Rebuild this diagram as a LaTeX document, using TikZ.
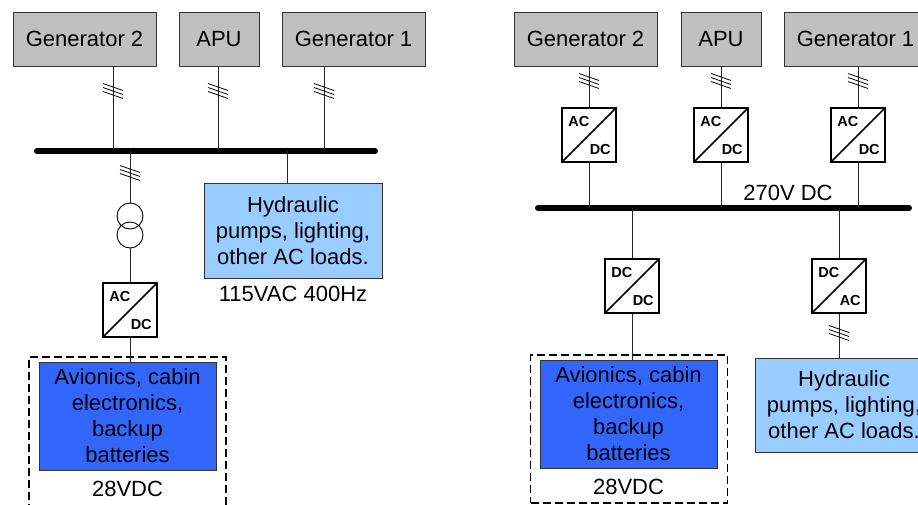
\documentclass[tikz,border=0pt]{standalone}
\usepackage{fontspec}
\setmainfont{Liberation Sans}
\usetikzlibrary{positioning}
\definecolor{gengray}{RGB}{192,192,192}
\definecolor{acblue}{RGB}{153,204,255}
\definecolor{dcblue}{RGB}{51,102,255}

\tikzset{
  gen/.style={draw=black!80, line width=1pt, fill=gengray, minimum height=54pt, inner sep=0pt, font=\fontsize{22}{26}\selectfont},
  conv/.style={draw, line width=1.8pt, fill=white, minimum size=54pt, inner sep=0pt,
    path picture={\draw[line width=1.5pt] (path picture bounding box.south west) -- (path picture bounding box.north east);}},
  convin/.style={label={[anchor=north west, inner sep=0pt, xshift=7pt, yshift=-9pt, font=\bfseries\fontsize{14.5}{15}\selectfont]north west:#1}},
  convout/.style={label={[anchor=south east, inner sep=0pt, xshift=-6pt, yshift=8pt, font=\bfseries\fontsize{14.5}{15}\selectfont]south east:#1}},
  load/.style={draw=black!80, line width=1pt, align=center, inner sep=0pt, font=\fontsize{22}{26}\selectfont},
  volt/.style={inner sep=0pt, font=\fontsize{22}{26}\selectfont},
  bus/.style={line width=6pt, line cap=round},
  wire/.style={line width=0.9pt, black!85},
  group/.style={draw, line width=1.8pt, dash pattern=on 8pt off 4pt, minimum width=197pt, inner sep=0pt},
  phase3/.pic={\foreach \d in {-4,0,4} \draw[line width=0.8pt] (-10,\d-3.5) -- (10,\d+3.5);}
}

\begin{document}
\begin{tikzpicture}[x=1pt, y=-1pt]
  \useasboundingbox (0,0) rectangle (918,504);

  % AC distribution
  \node[gen, minimum width=143pt] (lgen2) at (84.5,39) {Generator 2};
  \node[gen, minimum width=80pt] (lapu) at (219,39) {APU};
  \node[gen, minimum width=143pt] (lgen1) at (353.5,39) {Generator 1};

  \coordinate (lbusw) at (37,151);
  \coordinate (lbuse) at (375,151);
  \coordinate (ltap1) at (113,151);
  \coordinate (ltap2) at (218,151);
  \coordinate (ltap3) at (324,151);
  \coordinate (ltap4) at (287,151);
  \draw[bus] (lbusw) -- (lbuse);

  \foreach \g/\t in {lgen2/ltap1, lapu/ltap2, lgen1/ltap3} {
    \draw[wire] (\g.south -| \t) -- (\t);
    \pic at (\t |- 0,91) {phase3};
  }

  \node[circle, draw, line width=0.9pt, minimum size=26pt, inner sep=0pt] (ltr1) at (130,216) {};
  \node[circle, draw, line width=0.9pt, minimum size=26pt, inner sep=0pt] (ltr2) at (130,235) {};
  \node[conv, convin=AC, convout=DC] (lconv) at (130,310) {};
  \draw[wire] (ltr1.north |- lbusw) -- (ltr1.north);
  \pic at (130,173) {phase3};
  \draw[wire] (ltr2.south) -- (lconv.north);

  \node[load, fill=acblue, minimum width=178pt, minimum height=95pt] (lhyd) at (293,230.5) {Hydraulic\\pumps, lighting,\\other AC loads.};
  \node[volt, below=7pt of lhyd] (lacv) {115VAC 400Hz};
  \draw[wire] (ltap4) -- (ltap4 |- lhyd.north);

  \node[group, minimum height=155pt] (lgrp) at (127.5,434.5) {};
  \node[load, fill=dcblue, minimum width=177pt, minimum height=108pt] (lavio) at (127.5,416) {Avionics, cabin\\electronics,\\backup\\batteries};
  \node[volt, below=10pt of lavio] (ldcv) {28VDC};
  \draw[wire] (lconv.south) -- (lconv.south |- lavio.north);

  % DC distribution
  \node[gen, minimum width=143pt] (rgen2) at (585.5,39) {Generator 2};
  \node[gen, minimum width=80pt] (rapu) at (721,39) {APU};
  \node[gen, minimum width=143pt] (rgen1) at (855.5,39) {Generator 1};
  \node[conv, convin=AC, convout=DC] (rc1) at (589,135) {};
  \node[conv, convin=AC, convout=DC] (rc2) at (721,135) {};
  \node[conv, convin=AC, convout=DC] (rc3) at (858,135) {};

  \coordinate (rbusw) at (538,208);
  \coordinate (rbuse) at (909,208);
  \draw[bus] (rbusw) -- (rbuse);
  \node[volt, anchor=base] (rbusv) at (788,200) {270V DC};

  \foreach \g/\c in {rgen2/rc1, rapu/rc2, rgen1/rc3} {
    \draw[wire] (\c.north |- \g.south) -- (\c.north);
    \draw[wire] (\c.south) -- (\c.south |- rbusw);
    \pic at (\c.north |- 0,81) {phase3};
  }

  \node[conv, convin=DC, convout=DC] (rc4) at (632,286) {};
  \node[conv, convin=DC, convout=AC] (rc5) at (839,286) {};
  \draw[wire] (rc4.north |- rbusw) -- (rc4.north);
  \draw[wire] (rc5.north |- rbusw) -- (rc5.north);

  \node[group, minimum height=148pt] (rgrp) at (629,429) {};
  \node[load, fill=dcblue, minimum width=177pt, minimum height=108pt] (ravio) at (628.5,414) {Avionics, cabin\\electronics,\\backup\\batteries};
  \node[volt, below=10pt of ravio] (rdcv) {28VDC};
  \draw[wire] (rc4.south) -- (rc4.south |- ravio.north);

  \node[load, fill=acblue, minimum width=178pt, minimum height=94pt] (rhyd) at (844,405) {Hydraulic\\pumps, lighting,\\other AC loads.};
  \draw[wire] (rc5.south) -- (rc5.south |- rhyd.north);
  \pic at (839,333) {phase3};
\end{tikzpicture}
\end{document}
